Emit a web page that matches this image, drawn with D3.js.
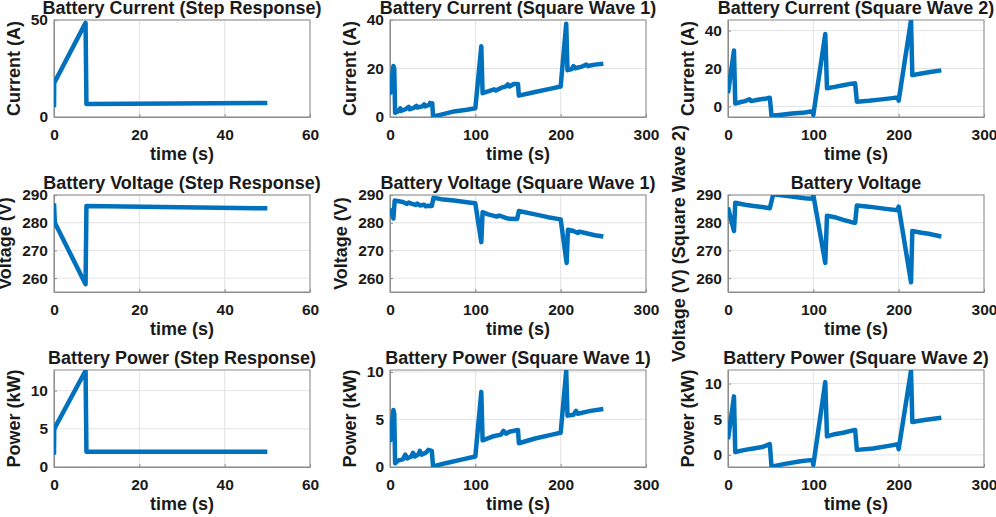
<!DOCTYPE html>
<html>
<head>
<meta charset="utf-8">
<script src="https://cdn.jsdelivr.net/npm/d3@7"></script>
<style>
  body { margin: 0; background: #fff; }
  text { font-family: "Liberation Sans", Arial, sans-serif; font-weight: bold; fill: #1a1a1a; }
</style>
</head>
<body>
<div id="chart-body"></div>
<script>
// [time (s), value] pairs
const stepCurrent = [[0,5],[0.05,17.5],[7.4,48.5],[7.6,6.7],[50,7.2]];
const stepVoltage = [[0,287],[0.2,280],[7.4,257.8],[7.6,286],[50,285.2]];
const stepPower = [[0,1.6],[0.05,5],[7.4,12.6],[7.6,2.0],[50,2.0]];

const sq1Current = [[0,11],[0.5,10],[1,12],[4,21],[5,20],[6,1.8],[10,2.4],[12,3.6],[13,2.5],[18,3.2],[22,4.2],
  [23,3.2],[28,3.8],[31,4.6],[32,3.9],[38,4.4],[40,5.2],[41,4.4],[46,5],[47,5.8],[48,5.1],[49.5,5.6],
  [50.5,0.2],[60,1],[75,2.3],[90,3],[100,3.6],[107,29.2],[108.5,9.8],[115,10.6],[122,11.4],[124,10.9],
  [130,12],[136,12.6],[138,13.5],[140,12.6],[145,13.6],[150,13.6],[151,8.8],[170,10.3],[190,11.8],[200,12.6],
  [206.5,38.5],[208,19.3],[213,19.8],[215,21],[217,20.1],[225,20.8],[230,21.6],[232,21],[240,21.6],[250,22]];
const sq1Voltage = [[0,285],[1,284.5],[4,281.5],[5.5,288],[15,287.5],[20,286.8],[22,287.3],[25,286.9],
  [30,286.4],[32,286.9],[35,286.2],[40,286.5],[42,285.9],[45,286.1],[49,286],[51,289],[60,288.5],[75,288],
  [90,287.4],[100,287],[107,273],[108.5,283.8],[115,283],[125,282.2],[128,282.6],[135,281.8],[140,281.4],
  [149,281.3],[151,284.2],[170,283],[185,282],[200,281.2],[207,265.5],[208.5,277.5],[215,277],[220,276.3],
  [222,276.8],[230,276.2],[240,275.5],[250,275]];
const sq1Power = [[0,3],[0.5,2.8],[4,6],[5,5.6],[6,0.4],[10,0.7],[15,0.8],[18,1.3],[20,0.9],[25,1.1],
  [27,1.5],[29,1.1],[33,1.3],[35,1.7],[37,1.3],[42,1.5],[45,1.8],[49,1.7],[50.5,0.05],[65,0.4],[85,0.8],
  [100,1.1],[107,7.9],[108.5,2.8],[120,3.2],[130,3.4],[133,3.8],[136,3.5],[140,3.7],[150,3.9],[151,2.5],
  [170,3],[190,3.4],[200,3.6],[206.5,10.1],[208,5.4],[215,5.5],[218,5.9],[220,5.6],[235,5.9],[250,6.1]];

const sq2Current = [[0,7],[7,29.5],[8.5,1.5],[15,2.3],[20,2.8],[25,3.8],[27,2.8],[35,3.5],[45,4.2],[49,4.6],
  [51,-5],[60,-4.6],[75,-3.8],[90,-3.2],[99,-2.6],[100,-4.5],[114,38.2],[116,9.6],[125,10.3],[135,11.2],
  [145,12],[149,12.2],[151,2.5],[165,3],[180,3.7],[195,4.5],[199,4.6],[200,3],[214.5,45.5],[216,16.5],
  [225,17.2],[235,18],[250,19]];
const sq2Voltage = [[0,285.5],[7,277],[8.5,287.2],[20,286.5],[30,286],[40,285.7],[49,285.2],[53,290.3],
  [70,289.6],[90,288.8],[99,288.6],[100,290],[114,265.5],[116,282.5],[125,282],[135,281],[145,280.2],
  [149,280],[151,286.2],[165,285.8],[185,285],[199,284.5],[200,285.8],[214.5,258.5],[216,277],[225,276.5],
  [235,276],[250,275]];
const sq2Power = [[0,2.2],[7,8.2],[8.5,0.4],[20,0.7],[30,0.9],[40,1.1],[49,1.5],[51,-1.65],[65,-1.3],
  [85,-0.9],[99,-0.7],[100,-1.4],[114,10.2],[116,2.6],[125,2.9],[135,3.1],[145,3.4],[149,3.5],[151,0.7],
  [170,0.9],[190,1.3],[199,1.5],[200,0.8],[214.5,11.8],[216,4.6],[230,4.9],[250,5.2]];

const stepTicksX = [0, 20, 40, 60];
const squareTicksX = [0, 100, 200, 300];
const currentTicks1 = [0, 50];
const currentTicks2 = [0, 20, 40];
const voltageTicks = [260, 270, 280, 290];
const powerTicks = [0, 5, 10];

const panels = [
  { row: 0, col: 0, title: "Battery Current (Step Response)", ylabel: "Current (A)", xd: [0, 60], xt: stepTicksX, yd: [0, 50], yt: currentTicks1, data: stepCurrent },
  { row: 0, col: 1, title: "Battery Current (Square Wave 1)", ylabel: "Current (A)", xd: [0, 300], xt: squareTicksX, yd: [0, 40], yt: currentTicks2, data: sq1Current },
  { row: 0, col: 2, title: "Battery Current (Square Wave 2)", ylabel: "Current (A)", xd: [0, 300], xt: squareTicksX, yd: [-5.6, 45.6], yt: currentTicks2, data: sq2Current },
  { row: 1, col: 0, title: "Battery Voltage (Step Response)", ylabel: "Voltage (V)", xd: [0, 60], xt: stepTicksX, yd: [255, 290], yt: voltageTicks, data: stepVoltage },
  { row: 1, col: 1, title: "Battery Voltage (Square Wave 1)", ylabel: "Voltage (V)", xd: [0, 300], xt: squareTicksX, yd: [255, 290], yt: voltageTicks, data: sq1Voltage },
  { row: 1, col: 2, title: "Battery Voltage", ylabel: "Voltage (V) (Square Wave 2)", xd: [0, 300], xt: squareTicksX, yd: [255, 290], yt: voltageTicks, data: sq2Voltage },
  { row: 2, col: 0, title: "Battery Power (Step Response)", ylabel: "Power (kW)", xd: [0, 60], xt: stepTicksX, yd: [0, 12.7], yt: powerTicks, data: stepPower },
  { row: 2, col: 1, title: "Battery Power (Square Wave 1)", ylabel: "Power (kW)", xd: [0, 300], xt: squareTicksX, yd: [0, 10.2], yt: powerTicks, data: sq1Power },
  { row: 2, col: 2, title: "Battery Power (Square Wave 2)", ylabel: "Power (kW)", xd: [0, 300], xt: squareTicksX, yd: [-1.7, 11.9], yt: powerTicks, data: sq2Power }
];

const w = 996, h = 517;
const colLeft = [54, 390, 728];
const rowTop = [20, 195, 370];
const pw = 256, ph = 97;
const tickFont = "15.5px", labelFont = "18px";

const svg = d3.select("#chart-body")
  .append("svg")
  .attr("width", w)
  .attr("height", h);

panels.forEach((p, i) => {
  const g = svg.append("g")
    .attr("transform", `translate(${colLeft[p.col]},${rowTop[p.row]})`);

  const x = d3.scaleLinear().domain(p.xd).range([0, pw]);
  const y = d3.scaleLinear().domain(p.yd).range([ph, 0]);

  // grid
  g.selectAll(".gx").data(p.xt).enter().append("line")
    .attr("x1", d => x(d)).attr("x2", d => x(d))
    .attr("y1", 0).attr("y2", ph)
    .attr("stroke", "#e3e3e3");
  g.selectAll(".gy").data(p.yt).enter().append("line")
    .attr("x1", 0).attr("x2", pw)
    .attr("y1", d => y(d)).attr("y2", d => y(d))
    .attr("stroke", "#e3e3e3");

  // axes, ticks pointing inward like matlab
  g.append("g").attr("transform", `translate(0,${ph})`)
    .call(d3.axisBottom(x).tickValues(p.xt).tickSizeInner(-3).tickSizeOuter(0).tickPadding(12))
    .call(a => a.selectAll("text").style("font-size", tickFont).attr("fill", "#1a1a1a"));
  g.append("g")
    .call(d3.axisLeft(y).tickValues(p.yt).tickSizeInner(-3).tickSizeOuter(0).tickPadding(6))
    .call(a => a.selectAll("text").style("font-size", tickFont).attr("fill", "#1a1a1a"));
  g.selectAll(".domain, .tick line").attr("stroke", "#8c8c8c");
  g.selectAll("text").style("font-family", '"Liberation Sans", Arial, sans-serif').style("font-weight", "bold");

  g.append("rect")
    .attr("width", pw).attr("height", ph)
    .attr("fill", "none").attr("stroke", "#8c8c8c");

  // data line, clipped to the axes box
  g.append("clipPath").attr("id", "clip" + i)
    .append("rect").attr("width", pw).attr("height", ph);
  g.append("path")
    .datum(p.data)
    .attr("clip-path", `url(#clip${i})`)
    .attr("fill", "none")
    .attr("stroke", "#0072BD")
    .attr("stroke-width", 4.5)
    .attr("stroke-linejoin", "round")
    .attr("d", d3.line().x(d => x(d[0])).y(d => y(d[1])));

  g.append("text")
    .attr("x", pw / 2).attr("y", -6)
    .attr("text-anchor", "middle")
    .style("font-size", labelFont)
    .text(p.title);

  g.append("text")
    .attr("x", pw / 2).attr("y", ph + 43)
    .attr("text-anchor", "middle")
    .style("font-size", labelFont)
    .text("time (s)");

  // y label sits left of the widest tick label
  const yTickW = d3.max(g.selectAll(".tick text").nodes().slice(p.xt.length), n => n.getComputedTextLength());
  g.append("text")
    .attr("transform", `translate(${-9 - yTickW - 8},${ph / 2}) rotate(-90)`)
    .attr("text-anchor", "middle")
    .style("font-size", labelFont)
    .text(p.ylabel);
});
</script>
</body>
</html>
